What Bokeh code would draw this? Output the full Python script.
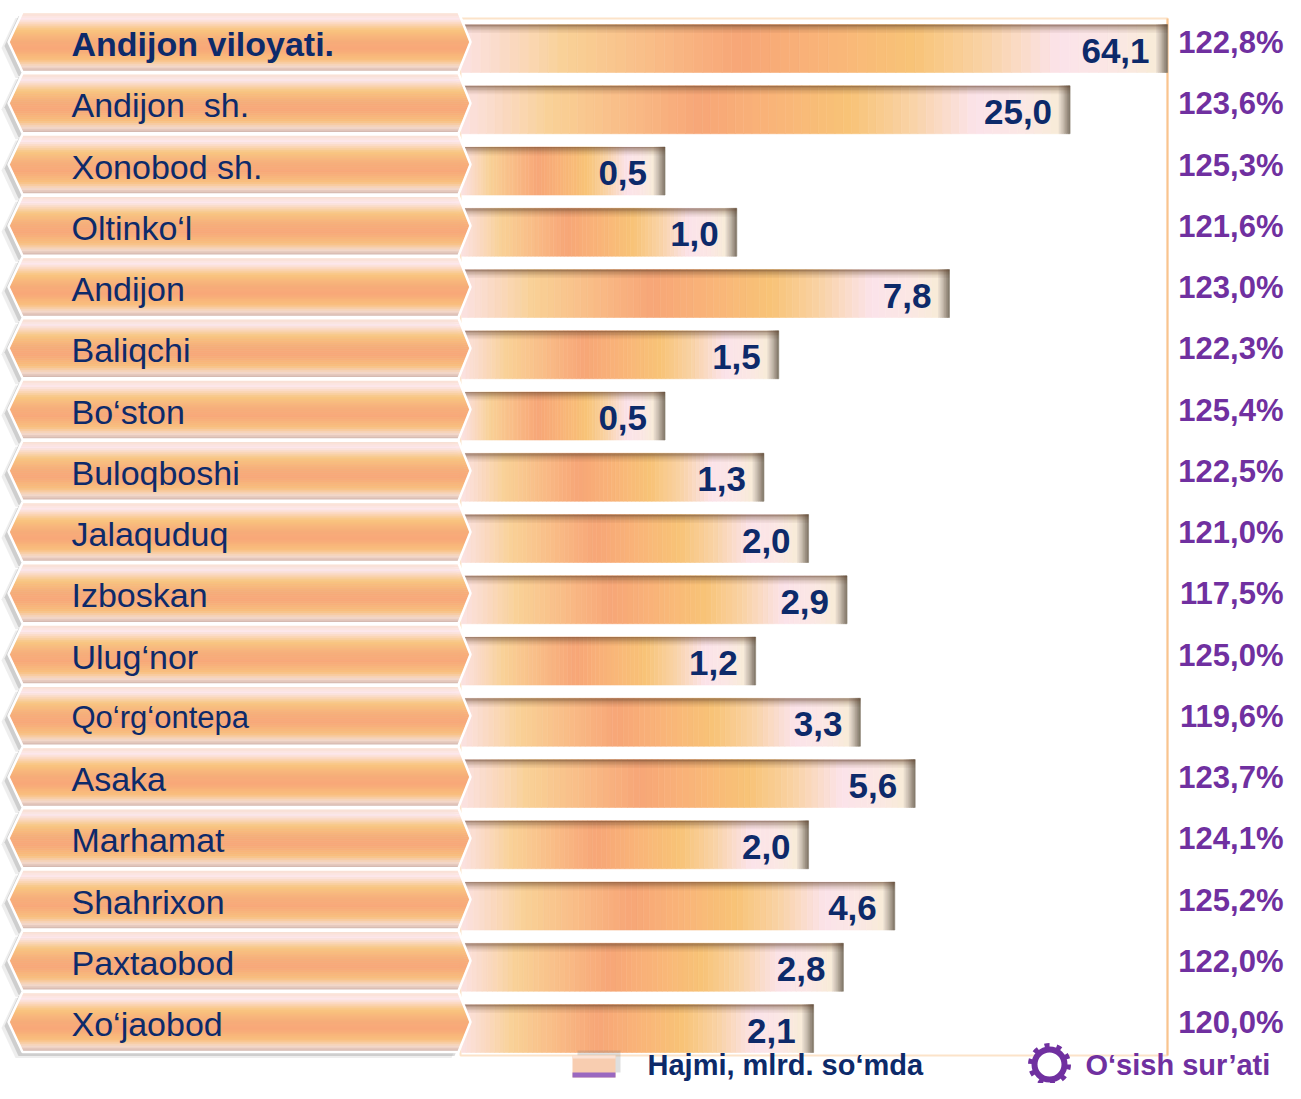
import numpy as np
from bokeh.plotting import figure
from bokeh.models import Range1d, LogScale, LinearScale, ColumnDataSource
from bokeh.core.properties import value
from bokeh.embed import file_html
from bokeh.resources import INLINE

# ---------------- data ----------------
regions = ["Andijon viloyati.", "Andijon\u00a0 sh.", "Xonobod sh.", "Oltinko‘l", "Andijon",
           "Baliqchi", "Bo‘ston", "Buloqboshi", "Jalaquduq", "Izboskan", "Ulug‘nor",
           "Qo‘rg‘ontepa", "Asaka", "Marhamat", "Shahrixon", "Paxtaobod", "Xo‘jaobod"]
volume = [64.1, 25.0, 0.5, 1.0, 7.8, 1.5, 0.5, 1.3, 2.0, 2.9, 1.2, 3.3, 5.6, 2.0, 4.6, 2.8, 2.1]
growth = [122.8, 123.6, 125.3, 121.6, 123.0, 122.3, 125.4, 122.5, 121.0, 117.5, 125.0,
          119.6, 123.7, 124.1, 125.2, 122.0, 120.0]
legend_labels = ["Hajmi, mlrd. so‘mda", "O‘sish sur’ati"]

# ---------------- layout / style ----------------
W, H = 1285, 1083
PPD, ORIGIN = 238.4, 736.3                 # bar axis: px per decade, px of value 1
ROW0, PITCH = 48.0, 61.25                  # first row centre and row pitch
BAR_START = 461
BANNER_OFF = -6.5
NAVY, PURPLE = "#0d2a6a", "#7030a0"
FONT = value("Liberation Sans")


def px_to_val(px):
    return 10 ** ((px - ORIGIN) / PPD)


def px_to_row(py):
    return (py - ROW0) / PITCH


def hex2rgb(h):
    return np.array([int(h[i:i + 2], 16) for i in (1, 3, 5)], float)


def grad(stops, t):
    for (p0, c0), (p1, c1) in zip(stops[:-1], stops[1:]):
        if t <= p1:
            f = (t - p0) / (p1 - p0) if p1 > p0 else 0
            c = hex2rgb(c0) * (1 - f) + hex2rgb(c1) * f
            break
    else:
        c = hex2rgb(stops[-1][1])
    return "#%02x%02x%02x" % tuple(int(round(x)) for x in c)


bar_stops = [(0.0, "#fbe2e2"), (0.07, "#fad9c2"), (0.15, "#f9d196"), (0.28, "#f9bb86"),
             (0.40, "#f7a677"), (0.52, "#f9b478"), (0.65, "#f8c377"), (0.75, "#f9d2a4"),
             (0.86, "#fbe3ea"), (0.94, "#fbe7e4"), (1.0, "#f8ecd8")]
edge_stops = [(0.0, "#eee2d2"), (0.4, "#c8bcae"), (1.0, "#7e7364")]
banner_stops = [(0.0, "#f9dfcc"), (0.12, "#fde7ec"), (0.30, "#f9c680"), (0.48, "#f7ae7a"),
                (0.62, "#f8a878"), (0.80, "#f9c07e"), (0.91, "#f6dacc"), (1.0, "#cdb2a8")]

p = figure(width=W, height=H, x_range=Range1d(0, W), y_range=Range1d(H, 0),
           output_backend="svg", toolbar_location=None, min_border=0,
           x_axis_location=None, y_axis_location=None, outline_line_color=None,
           background_fill_color="white", border_fill_color="white")
p.grid.visible = False
p.extra_x_ranges = {"val": Range1d(px_to_val(0), px_to_val(W))}
p.extra_x_scales = {"val": LogScale()}
p.extra_y_ranges = {"row": Range1d(px_to_row(H), px_to_row(0))}
p.extra_y_scales = {"row": LinearScale()}

n = len(regions)
rows = np.arange(n)

# frame around bar area
p.quad(left=460, right=1167, top=18, bottom=1055, fill_color=None,
       line_color="#fce3c9", line_width=2)
p.segment(x0=[1167], y0=[18], x1=[1167], y1=[1055], line_color="#f9c48e", line_width=2)

# ---------------- bars (gradient segments along log axis) ----------------
v0 = px_to_val(BAR_START)
edge_f = 10 ** (-11 / PPD)
hh = 24 / PITCH
L, R, T, B, C = [], [], [], [], []
N, M = 72, 6
for i, v in enumerate(volume):
    ve = v * edge_f
    b = v0 * (ve / v0) ** (np.arange(N + 1) / N)
    for k in range(N):
        L.append(b[k]); R.append(b[k + 1]); T.append(i - hh); B.append(i + hh)
        C.append(grad(bar_stops, (k + 0.5) / N))
    e = ve * (v / ve) ** (np.arange(M + 1) / M)
    for k in range(M):
        L.append(e[k]); R.append(e[k + 1]); T.append(i - hh); B.append(i + hh)
        C.append(grad(edge_stops, (k + 0.5) / M))
p.quad(left=L, right=R, top=T, bottom=B, fill_color=C, line_color=C, line_width=0.6,
       x_range_name="val", y_range_name="row")

# top inner shadow of bars
for k, a in enumerate([0.55, 0.42, 0.3, 0.2, 0.12, 0.06]):
    t0 = rows - hh + k * 1.4 / PITCH
    p.quad(left=[v0] * n, right=volume, top=t0, bottom=t0 + 1.4 / PITCH,
           fill_color="#5b3a24", fill_alpha=a, line_color=None,
           x_range_name="val", y_range_name="row")

# ---------------- banners ----------------
def xl(s):
    return 8 + 14 * abs(2 * s - 1)


def xr(s):
    return 470 - 12 * abs(2 * s - 1)


BH = 60.0
hex_s = [0.5, 0.0, 0.0, 0.5, 1.0, 1.0]
hex_x = [8, 22, 458, 470, 458, 22]
for dx, dy, a in [(-7, 6, 0.12), (-4, 4, 0.25)]:
    xs = [[x + dx for x in hex_x] for _ in rows]
    ys = [[i + (BANNER_OFF + dy + (s - 0.5) * BH) / PITCH for s in hex_s] for i in rows]
    p.patches(xs, ys, fill_color="#707070", fill_alpha=a, line_color=None, y_range_name="row")

S = 30
sx, sy, sc = [], [], []
for i in rows:
    yc = i + BANNER_OFF / PITCH
    for k in range(S):
        s0, s1 = k / S, (k + 1) / S
        sx.append([xl(s0), xr(s0), xr(s1), xl(s1)])
        sy.append([yc + (s - 0.5) * BH / PITCH for s in (s0, s0, s1, s1)])
        sc.append(grad(banner_stops, (k + 0.5) / S))
p.patches(sx, sy, fill_color=sc, line_color=sc, line_width=0.6, y_range_name="row")
p.patches([hex_x for _ in rows],
          [[i + (BANNER_OFF + (s - 0.5) * BH) / PITCH for s in hex_s] for i in rows],
          fill_color=None, line_color="white", line_width=2.5, y_range_name="row")

# ---------------- texts ----------------
lab = ColumnDataSource(dict(
    x=[71] * n, y=rows + (BANNER_OFF + 2) / PITCH, t=regions,
    fs=["31px" if r.startswith("Qo") else "34px" for r in regions],
    st=["bold" if i == 0 else "normal" for i in range(n)]))
p.text(x="x", y="y", text="t", source=lab, text_font=FONT, text_font_size="fs",
       text_font_style="st", text_color=NAVY, text_baseline="middle", text_align="left",
       y_range_name="row")

vals = ColumnDataSource(dict(v=volume, y=rows,
                             t=[f"{v:.1f}".replace(".", ",") for v in volume]))
p.text(x="v", y="y", text="t", source=vals, text_font=FONT, text_font_size="35px",
       text_font_style="bold", text_color=NAVY, text_baseline="middle", text_align="right",
       x_offset=-18, y_offset=2, x_range_name="val", y_range_name="row")

pct = ColumnDataSource(dict(x=[1283] * n, y=rows,
                            t=[f"{g:.1f}".replace(".", ",") + "%" for g in growth]))
p.text(x="x", y="y", text="t", source=pct, text_font=FONT, text_font_size="31px",
       text_font_style="bold", text_color=PURPLE, text_baseline="middle", text_align="right",
       y_offset=-6, y_range_name="row")

# ---------------- legend ----------------
LY = 1064
p.quad(left=[577], right=[620], top=[LY - 14], bottom=[LY + 8], fill_color="#808080",
       fill_alpha=0.25, line_color=None)
p.quad(left=[572], right=[615], top=[LY - 9], bottom=[LY + 13], fill_color="#f8cdb0",
       line_color=None)
p.quad(left=[572], right=[615], top=[LY - 9], bottom=[LY - 6], fill_color="#fbe3d6",
       line_color=None)
p.quad(left=[572], right=[615], top=[LY + 8], bottom=[LY + 13], fill_color="#9a68c0",
       line_color=None)
p.text(x=[647], y=[LY], text=[legend_labels[0]], text_font=FONT, text_font_size="29px",
       text_font_style="bold", text_color=NAVY, text_baseline="middle")
p.scatter(x=[1049], y=[LY], size=38, marker="circle", fill_color=None,
          line_color=PURPLE, line_width=5, line_dash="5 7")
p.scatter(x=[1049], y=[LY], size=30, marker="circle", fill_color="white",
          line_color=PURPLE, line_width=6)
p.text(x=[1085], y=[LY], text=[legend_labels[1]], text_font=FONT, text_font_size="29px",
       text_font_style="bold", text_color=PURPLE, text_baseline="middle")

open("out.html", "w").write(file_html(p, INLINE))
